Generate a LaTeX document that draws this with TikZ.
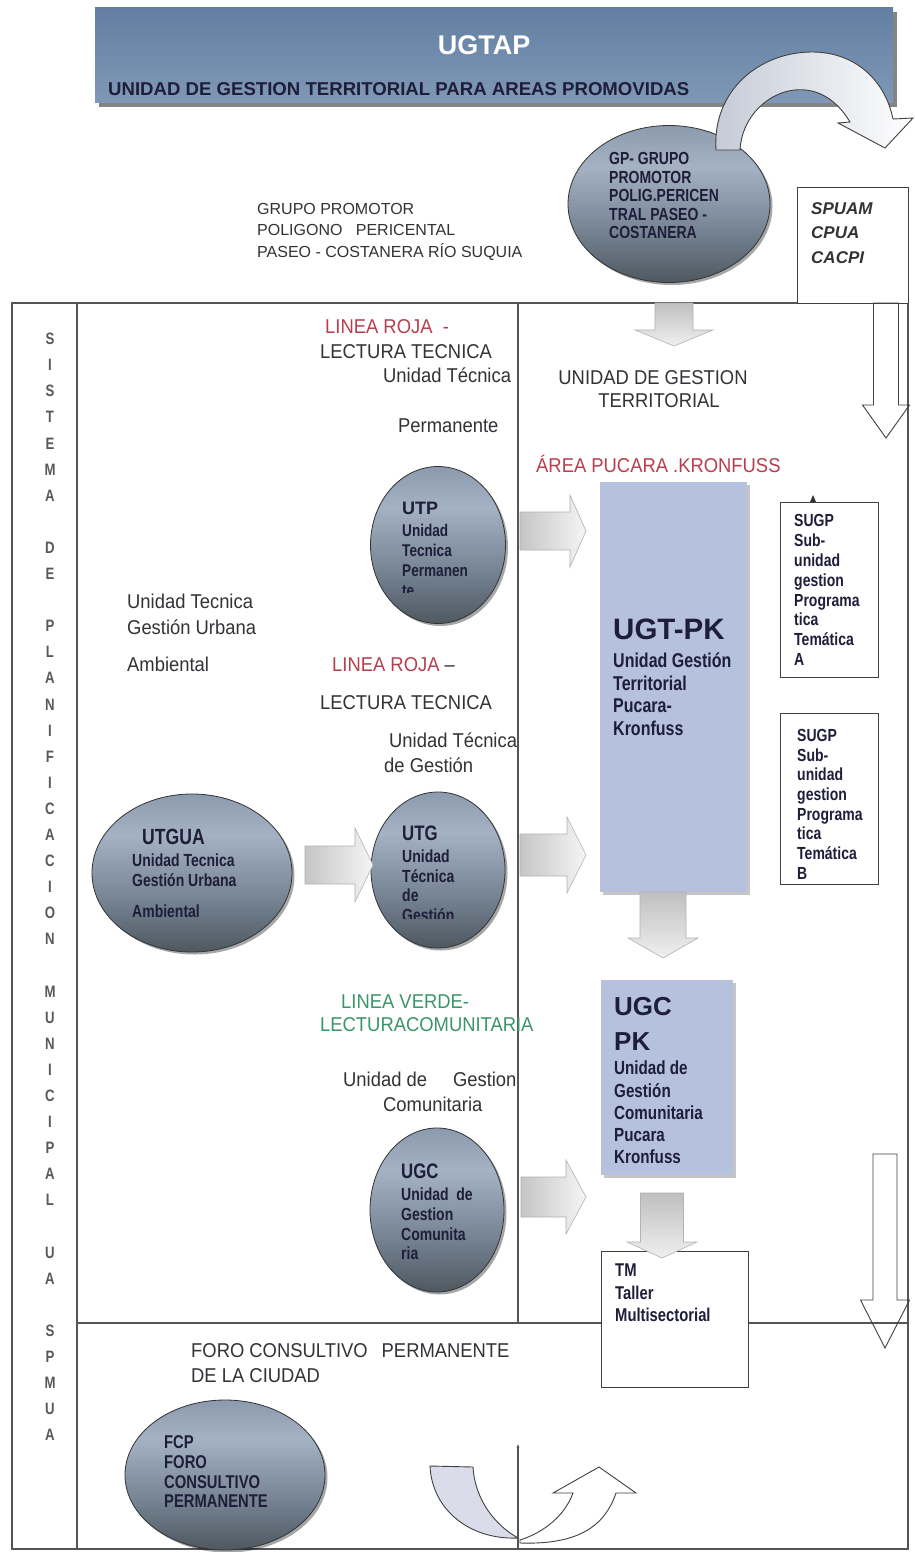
\documentclass[tikz,border=0pt]{standalone}
\usepackage{fontspec}
\setmainfont{Liberation Sans}
\newfontfamily\narf{Liberation Sans}[FakeStretch=0.8]
\newfontfamily\hdf{Liberation Sans}[FakeStretch=0.92]
\usetikzlibrary{shapes.geometric,shadows,arrows.meta}
\definecolor{bannerA}{RGB}{98,127,162}
\definecolor{bannerB}{RGB}{128,152,182}
\definecolor{boxblue}{RGB}{182,193,222}
\definecolor{navy}{RGB}{30,30,58}
\definecolor{txt}{RGB}{50,50,55}
\definecolor{rojo}{RGB}{184,62,78}
\definecolor{verde}{RGB}{58,150,105}
\definecolor{eA}{RGB}{78,88,96}
\definecolor{eB}{RGB}{118,132,148}
\definecolor{eC}{RGB}{165,178,196}
\definecolor{eD}{RGB}{140,154,174}
\definecolor{linec}{RGB}{85,85,85}
\definecolor{lilac}{RGB}{218,220,234}
\pgfdeclareverticalshading{ellsh}{100bp}{color(0bp)=(eA); color(25bp)=(eA); color(42bp)=(eB); color(62bp)=(eC); color(75bp)=(eD); color(100bp)=(eD)}
\newcommand{\rarr}[7]{\path[#7] (#1,{#4-#5}) -- (#2,{#4-#5}) -- (#2,{#4-#6}) -- (#3,#4) -- (#2,{#4+#6}) -- (#2,{#4+#5}) -- (#1,{#4+#5}) -- cycle;}
\newcommand{\darr}[7]{\path[#7] ({#4-#5},#1) -- ({#4-#5},#2) -- ({#4-#6},#2) -- (#4,#3) -- ({#4+#6},#2) -- ({#4+#5},#2) -- ({#4+#5},#1) -- cycle;}
\tikzset{
  banner/.style={rectangle, inner sep=0pt, top color=bannerA, bottom color=bannerB, draw=none,
    minimum width=798pt, minimum height=95pt,
    drop shadow={shadow xshift=4pt, shadow yshift=-4pt, fill=black!60, opacity=.8}},
  ell/.style={ellipse, inner sep=0pt, draw=black!80, line width=0.8pt, shading=ellsh,
    drop shadow={shadow xshift=2.5pt, shadow yshift=-2.5pt, fill=black, opacity=.35}},
  bluebox/.style={rectangle, inner sep=0pt, fill=boxblue, draw=none,
    drop shadow={shadow xshift=3pt, shadow yshift=-3pt, fill=black!50, opacity=.45}},
  whitebox/.style={rectangle, inner sep=0pt, fill=white, draw=black!75, line width=0.8pt},
  frame/.style={draw=linec, line width=1.1pt},
  hd/.style={font=\hdf\fontsize{20}{24}\selectfont, text=txt, inner sep=0pt, anchor=base west},
  etxt/.style={text=navy, inner sep=0pt, align=left, anchor=north west},
  vlet/.style={font=\narf\bfseries\fontsize{16.5}{18}\selectfont, text=black!65, inner sep=0pt},
  garrow/.style={left color=gray!45, right color=gray!8, draw=gray!60, line width=0.6pt},
  garrowd/.style={top color=gray!50, bottom color=gray!12, draw=gray!60, line width=0.6pt},
  oarrow/.style={draw=black!75, line width=0.9pt},
}
\begin{document}
\begin{tikzpicture}[x=1pt,y=-1pt]
\path[use as bounding box] (0,0) rectangle (914,1552);
\fill[white] (0,0) rectangle (914,1552);

% ---------- frame ----------
\draw[frame] (12,303) rectangle (908,1549);
\draw[frame] (77,303) -- (77,1549);
\draw[frame] (518,303) -- (518,1323);
\draw[frame] (77,1323) -- (908,1323);
\draw[frame, -{Latex[length=5pt,width=3pt]}] (518,1549) -- (518,1443);

% ---------- banner ----------
\node[banner] (banner) at (494,55.5) {};
\node[font=\bfseries\fontsize{27}{30}\selectfont, text=white, anchor=base, inner sep=0pt] (ugtap) at (484,55) {UGTAP};
\node[font=\bfseries\fontsize{18.6}{22}\selectfont, text=navy, anchor=base west, inner sep=0pt] (ugtapsub) at (108,95.5) {UNIDAD DE GESTION TERRITORIAL PARA AREAS PROMOVIDAS};

% ---------- GP ellipse ----------
\node[ell, minimum width=202pt, minimum height=157pt] (gp) at (669,204) {};
\begin{scope}
\clip (560,140) rectangle (780,237);
\node[etxt, font=\narf\bfseries\fontsize{17.5}{18.6}\selectfont] (gptxt) at (609,152) {GP- GRUPO\\PROMOTOR\\POLIG.PERICEN\\TRAL PASEO -\\COSTANERA};
\end{scope}

% top curved arrow
\path[left color={rgb,255:red,196;green,202;blue,214}, right color=white, draw=black!75, line width=0.9pt]
  (716,150) .. controls (712,90) and (760,52) .. (812,52) .. controls (855,52) and (885,80) .. (893,119)
  -- (913,118) -- (885,148) -- (838,123) -- (850,122)
  .. controls (835,97) and (815,88) .. (795,90) .. controls (770,92) and (742,115) .. (740,150) -- cycle;

% GRUPO PROMOTOR text
\node[etxt, text=txt, font=\fontsize{16}{21.5}\selectfont] (gpdesc) at (257,203) {GRUPO PROMOTOR\\POLIGONO\ \ \ PERICENTAL\\PASEO - COSTANERA RÍO SUQUIA};

% SPUAM box
\node[whitebox, minimum width=111pt, minimum height=116pt] (spuam) at (852.5,245) {};
\node[etxt, text=txt, font=\bfseries\itshape\fontsize{17}{24.5}\selectfont] (spuamtxt) at (811,202) {SPUAM\\CPUA\\CACPI};

% ---------- vertical letters ----------
\foreach \l/\k in {S/0,I/1,S/2,T/3,E/4,M/5,A/6,D/8,E/9,P/11,L/12,A/13,N/14,I/15,F/16,I/17,C/18,A/19,C/20,I/21,O/22,N/23,M/25,U/26,N/27,I/28,C/29,I/30,P/31,A/32,L/33,U/35,A/36,S/38,P/39,M/40,U/41,A/42}
  \node[vlet] (v\k) at (50,{339+26.1*\k}) {\l};

% ---------- headings ----------
\node[hd, text=rojo] (lr1) at (325,333) {LINEA ROJA\ \ -};
\node[hd] (lt1) at (320,358) {LECTURA TECNICA};
\node[hd] (utpa) at (383,382) {Unidad Técnica};
\node[hd] (utpb) at (398,432) {Permanente};
\node[hd, anchor=base] (ugtt1) at (653,384) {UNIDAD DE GESTION};
\node[hd, anchor=base] (ugtt2) at (659,407) {TERRITORIAL};
\node[hd, text=rojo] (area) at (536,472) {ÁREA PUCARA .KRONFUSS};
\node[hd] (utgl1) at (127,608) {Unidad Tecnica};
\node[hd] (utgl2) at (127,634) {Gestión Urbana};
\node[hd] (utgl3) at (127,671) {Ambiental};
\node[hd] (lr2) at (332,671) {\textcolor{rojo}{LINEA ROJA} –};
\node[hd] (lt2) at (320,709) {LECTURA TECNICA};
\node[hd] (utga) at (389,747) {Unidad Técnica};
\node[hd] (utgb) at (384,772) {de Gestión};
\node[hd, text=verde] (lv1) at (341,1008) {LINEA VERDE-};
\node[hd, text=verde] (lv2) at (320,1031) {LECTURACOMUNITARIA};
\node[hd] (ugcl1) at (343,1086) {Unidad de\hspace{26pt}Gestion};
\node[hd] (ugcl2) at (383,1111) {Comunitaria};
\node[hd] (foro1) at (191,1357) {FORO CONSULTIVO\hspace{14pt}PERMANENTE};
\node[hd] (foro2) at (191,1382) {DE LA CIUDAD};

% ---------- UTP ----------
\node[ell, minimum width=135pt, minimum height=157pt] (utp) at (438,545) {};
\node[etxt, anchor=base west, font=\bfseries\fontsize{18}{20}\selectfont] (utpt) at (402,514) {UTP};
\begin{scope}
\clip (380,515) rectangle (505,592);
\node[etxt, font=\narf\bfseries\fontsize{17}{20}\selectfont] (utpb2) at (402,524) {Unidad\\Tecnica\\Permanen\\te};
\end{scope}

% ---------- UTGUA ----------
\node[ell, minimum width=200pt, minimum height=158pt] (utgua) at (192,873) {};
\node[etxt, anchor=base west, font=\narf\bfseries\fontsize{22}{24}\selectfont] (utguat) at (142,844) {UTGUA};
\node[etxt, font=\narf\bfseries\fontsize{17.5}{19.5}\selectfont] (utguab) at (132,854) {Unidad Tecnica\\Gestión Urbana};
\node[etxt, anchor=base west, font=\narf\bfseries\fontsize{17.5}{19.5}\selectfont] (utguac) at (132,917) {Ambiental};

% ---------- UTG ----------
\node[ell, minimum width=134pt, minimum height=156pt] (utg) at (438,870) {};
\node[etxt, anchor=base west, font=\narf\bfseries\fontsize{21}{24}\selectfont] (utgt) at (402,840.5) {UTG};
\begin{scope}
\clip (380,845) rectangle (505,918);
\node[etxt, font=\narf\bfseries\fontsize{17.5}{19.5}\selectfont] (utgb2) at (402,850) {Unidad\\Técnica\\de\\Gestión};
\end{scope}

% ---------- UGC ----------
\node[ell, minimum width=134pt, minimum height=164pt] (ugc) at (437,1210) {};
\node[etxt, anchor=base west, font=\narf\bfseries\fontsize{21}{24}\selectfont] (ugct) at (401,1178.5) {UGC};
\node[etxt, font=\narf\bfseries\fontsize{17.5}{19.7}\selectfont] (ugcb) at (401,1188) {Unidad\ \ de\\Gestion\\Comunita\\ria};

% ---------- FCP ----------
\node[ell, minimum width=200pt, minimum height=150pt] (fcp) at (225,1475) {};
\node[etxt, font=\narf\bfseries\fontsize{18.5}{19.7}\selectfont] (fcpt) at (164,1435.5) {FCP\\FORO\\CONSULTIVO\\PERMANENTE};

% ---------- UGT-PK ----------
\node[bluebox, minimum width=147pt, minimum height=410pt] (ugtpk) at (673.5,687) {};
\node[etxt, anchor=base west, font=\bfseries\fontsize{29.5}{32}\selectfont] (ugtpkt) at (613,639.6) {UGT-PK};
\node[etxt, font=\narf\bfseries\fontsize{20}{22.5}\selectfont] (ugtpkb) at (613,653) {Unidad Gestión\\Territorial\\Pucara-\\Kronfuss};

% ---------- SUGP boxes ----------
\node[whitebox, minimum width=98pt, minimum height=175pt] (sugpa) at (829,589.5) {};
\fill[black!80] (810,502) -- (816,502) -- (813,495) -- cycle;
\node[etxt, font=\narf\bfseries\fontsize{17.5}{19.9}\selectfont] (sugpat) at (794,514) {SUGP\\Sub-\\unidad\\gestion\\Programa\\tica\\Temática\\A};
\node[whitebox, minimum width=98pt, minimum height=171pt] (sugpb) at (829,798.5) {};
\begin{scope}
\clip (782,715) rectangle (876,878);
\node[etxt, font=\narf\bfseries\fontsize{17.5}{19.7}\selectfont] (sugpbt) at (797,729) {SUGP\\Sub-\\unidad\\gestion\\Programa\\tica\\Temática\\B};
\end{scope}

% ---------- UGC PK ----------
\node[bluebox, minimum width=132pt, minimum height=195pt] (ugcpk) at (667,1077.5) {};
\node[etxt, font=\bfseries\fontsize{26}{35}\selectfont] (ugcpkt) at (614,997) {UGC\\PK};
\node[etxt, font=\narf\bfseries\fontsize{19}{22.2}\selectfont] (ugcpkb) at (614,1061) {Unidad de\\Gestión\\Comunitaria\\Pucara\\Kronfuss};

% ---------- TM ----------
\node[whitebox, minimum width=147pt, minimum height=136pt] (tm) at (674.5,1319) {};
\node[etxt, font=\narf\bfseries\fontsize{18.5}{22.5}\selectfont] (tmt) at (615,1264) {TM\\Taller\\Multisectorial};

% ---------- block arrows ----------
\rarr{305}{355}{373}{865}{19}{37}{garrow}
\rarr{520}{570}{586}{531}{19}{36}{garrow}
\rarr{520}{567}{586}{855}{21}{38}{garrow}
\rarr{521}{566}{586}{1197}{20}{37}{garrow}
\darr{303}{330}{346}{674}{19}{39}{garrowd}
\darr{892}{938}{958}{663}{23}{35}{garrowd}
\darr{1193}{1242}{1258}{662}{21.5}{35}{garrowd}
\darr{303}{405}{438}{886}{12.5}{23.5}{oarrow}
\darr{1154}{1300}{1348}{885}{12}{24.5}{oarrow}

% ---------- bottom curved arrows ----------
\path[fill=lilac, draw=black!75, line width=0.9pt]
  (430,1466) -- (473,1467) .. controls (475,1500) and (495,1525) .. (518,1538)
  .. controls (470,1540) and (432,1510) .. (430,1466) -- cycle;
\path[draw=black!75, line width=0.9pt, fill=white]
  (520,1540) .. controls (545,1532) and (565,1515) .. (573,1493) -- (553,1493) -- (599,1467)
  -- (636,1493) -- (616,1493) .. controls (605,1525) and (580,1545) .. (520,1543) -- cycle;
\end{tikzpicture}
\end{document}
